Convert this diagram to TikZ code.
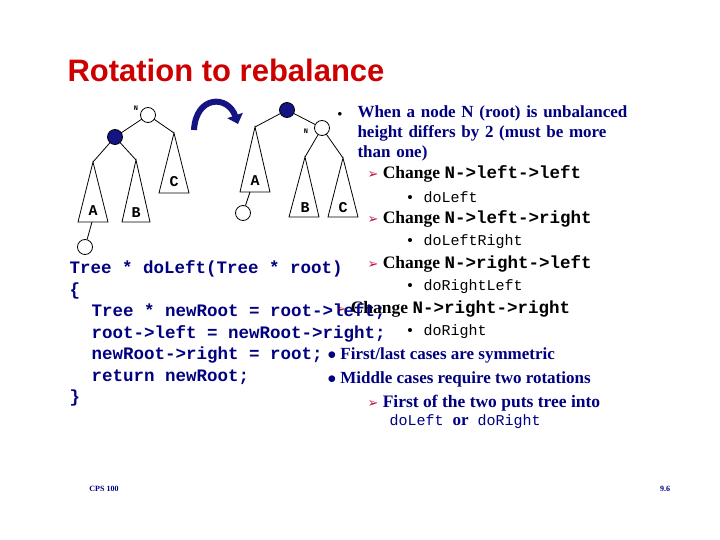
\documentclass[tikz,border=0pt]{standalone}
\usetikzlibrary{arrows.meta}
\usepackage{fontspec}
\setmainfont{Liberation Serif}
\setsansfont{Liberation Sans}
\setmonofont{Liberation Mono}
\newfontfamily\djv{DejaVu Sans}
\definecolor{navy}{RGB}{0,0,128}
\definecolor{ttl}{RGB}{204,0,0}
\definecolor{blob}{RGB}{20,20,130}
\definecolor{arr}{RGB}{190,20,60}
\tikzset{wn/.style={circle,draw,thick,fill=white,minimum size=15pt,inner sep=0pt},
bn/.style={circle,draw,thick,fill=blob,minimum size=15pt,inner sep=0pt},
tri/.style={draw,thick,fill=white},
tl/.style={font=\ttfamily\bfseries\fontsize{15}{16}\selectfont},
nl/.style={font=\ttfamily\bfseries\fontsize{7}{8}\selectfont},
pt/.style={anchor=west,text=navy,font=\bfseries\fontsize{17}{20}\selectfont},
sub/.style={anchor=west,font=\bfseries\fontsize{17.5}{20}\selectfont},
ss/.style={anchor=west,font=\ttfamily\fontsize{15}{16}\selectfont},
code/.style={anchor=west,text=navy,font=\ttfamily\bfseries\fontsize{17.5}{20}\selectfont}}
\newcommand{\arb}{{\color{arr}\djv\fontsize{13}{14}\selectfont ➢}}
\begin{document}
\begin{tikzpicture}[x=1pt,y=-1pt]
\useasboundingbox (0,0) rectangle (720,540);
\node[anchor=west,text=ttl,font=\sffamily\bfseries\fontsize{31}{36}\selectfont] (title) at (64,70) {Rotation to rebalance};
% left tree
\coordinate (lA) at (93,162); \coordinate (lB) at (136,160); \coordinate (lC) at (174,133);
\draw[thick] (148,115) -- (115,137) -- (lA); \draw[thick] (115,137) -- (lB); \draw[thick] (148,115) -- (lC);
\draw[tri] (lA) -- (78,222) -- (108,222) -- cycle; \node[tl] (tA) at (93,211) {A};
\draw[tri] (lB) -- (122,222) -- (150,222) -- cycle; \node[tl] (tB) at (136,213) {B};
\draw[tri] (lC) -- (159,193) -- (189,193) -- cycle; \node[tl] (tC) at (174,182) {C};
\coordinate (lAb) at (92,222);
\node[wn] (lx) at (85,247) {}; \draw[thick] (lAb) -- (lx);
\node[wn] (lN) at (148,115) {}; \node[bn] (lP) at (115,137) {};
\node[nl] (lNl) at (136,108) {N};
% right tree
\coordinate (rA) at (255,127); \coordinate (rB) at (305,157); \coordinate (rC) at (343,158);
\draw[thick] (287,110) -- (rA); \draw[thick] (287,110) -- (322,128) -- (rB); \draw[thick] (322,128) -- (rC);
\draw[tri] (rA) -- (240,192) -- (270,192) -- cycle; \node[tl] (tA2) at (255,181) {A};
\draw[tri] (rB) -- (289,217) -- (319,217) -- cycle; \node[tl] (tB2) at (305,208) {B};
\draw[tri] (rC) -- (328,217) -- (358,217) -- cycle; \node[tl] (tC2) at (343,208) {C};
\coordinate (rAb) at (250,192);
\node[wn] (rx) at (243,213) {}; \draw[thick] (rAb) -- (rx);
\node[bn] (rP) at (287,110) {}; \node[wn] (rN) at (322,128) {};
\node[nl] (rNl) at (306,131) {N};
% rotation arrow
\coordinate (a1) at (194,130); \coordinate (a2) at (238,124);
\draw[blob,line width=6pt,-{Triangle[length=9pt,width=16pt]}] (a1) .. controls (196,95) and (228,95) .. (a2);
% bullets
\node[font=\small] (b0) at (340,114) {$\bullet$};
\node[pt,align=left,text width=300pt] (t1) at (354,133) {When a node N (root) is unbalanced\\height differs by 2 (must be more\\than one)};
\node[sub] (s1) at (364,174) {\arb\ Change {\ttfamily N->left->left}};
\node[ss] (ss1) at (402,197) {\textbullet\ doLeft};
\node[sub] (s2) at (364,219) {\arb\ Change {\ttfamily N->left->right}};
\node[ss] (ss2) at (402,242) {\textbullet\ doLeftRight};
\node[sub] (s3) at (364,264) {\arb\ Change {\ttfamily N->right->left}};
\node[ss] (ss3) at (402,287) {\textbullet\ doRightLeft};
\node[sub] (s4) at (332,309) {\arb\ Change {\ttfamily N->right->right}};
\node[ss] (ss4) at (402,332) {\textbullet\ doRight};
\node[pt] (t2) at (324,355) {$\bullet$\ First/last cases are symmetric};
\node[pt] (t3) at (324,379) {$\bullet$\ Middle cases require two rotations};
\node[sub,text=navy] (s5) at (364,403) {\arb\ First of the two puts tree into};
\node[ss,text=navy] (s6) at (386,422) {doLeft {\rmfamily\bfseries\fontsize{17}{20}\selectfont or} doRight};
% code
\node[code] (c1) at (66,269) {Tree * doLeft(Tree * root)};
\node[code] (c2) at (66,291) {\{};
\node[code] (c3) at (88,312) {Tree * newRoot = root->left;};
\node[code] (c4) at (88,334) {root->left = newRoot->right;};
\node[code] (c5) at (88,355) {newRoot->right = root;};
\node[code] (c6) at (88,377) {return newRoot;};
\node[code] (c7) at (66,398) {\}};
\node[text=navy,font=\bfseries\fontsize{8}{9}\selectfont] (f1) at (104,489) {CPS 100};
\node[text=navy,font=\bfseries\fontsize{8}{9}\selectfont] (f2) at (665,489) {9.6};
\end{tikzpicture}
\end{document}
